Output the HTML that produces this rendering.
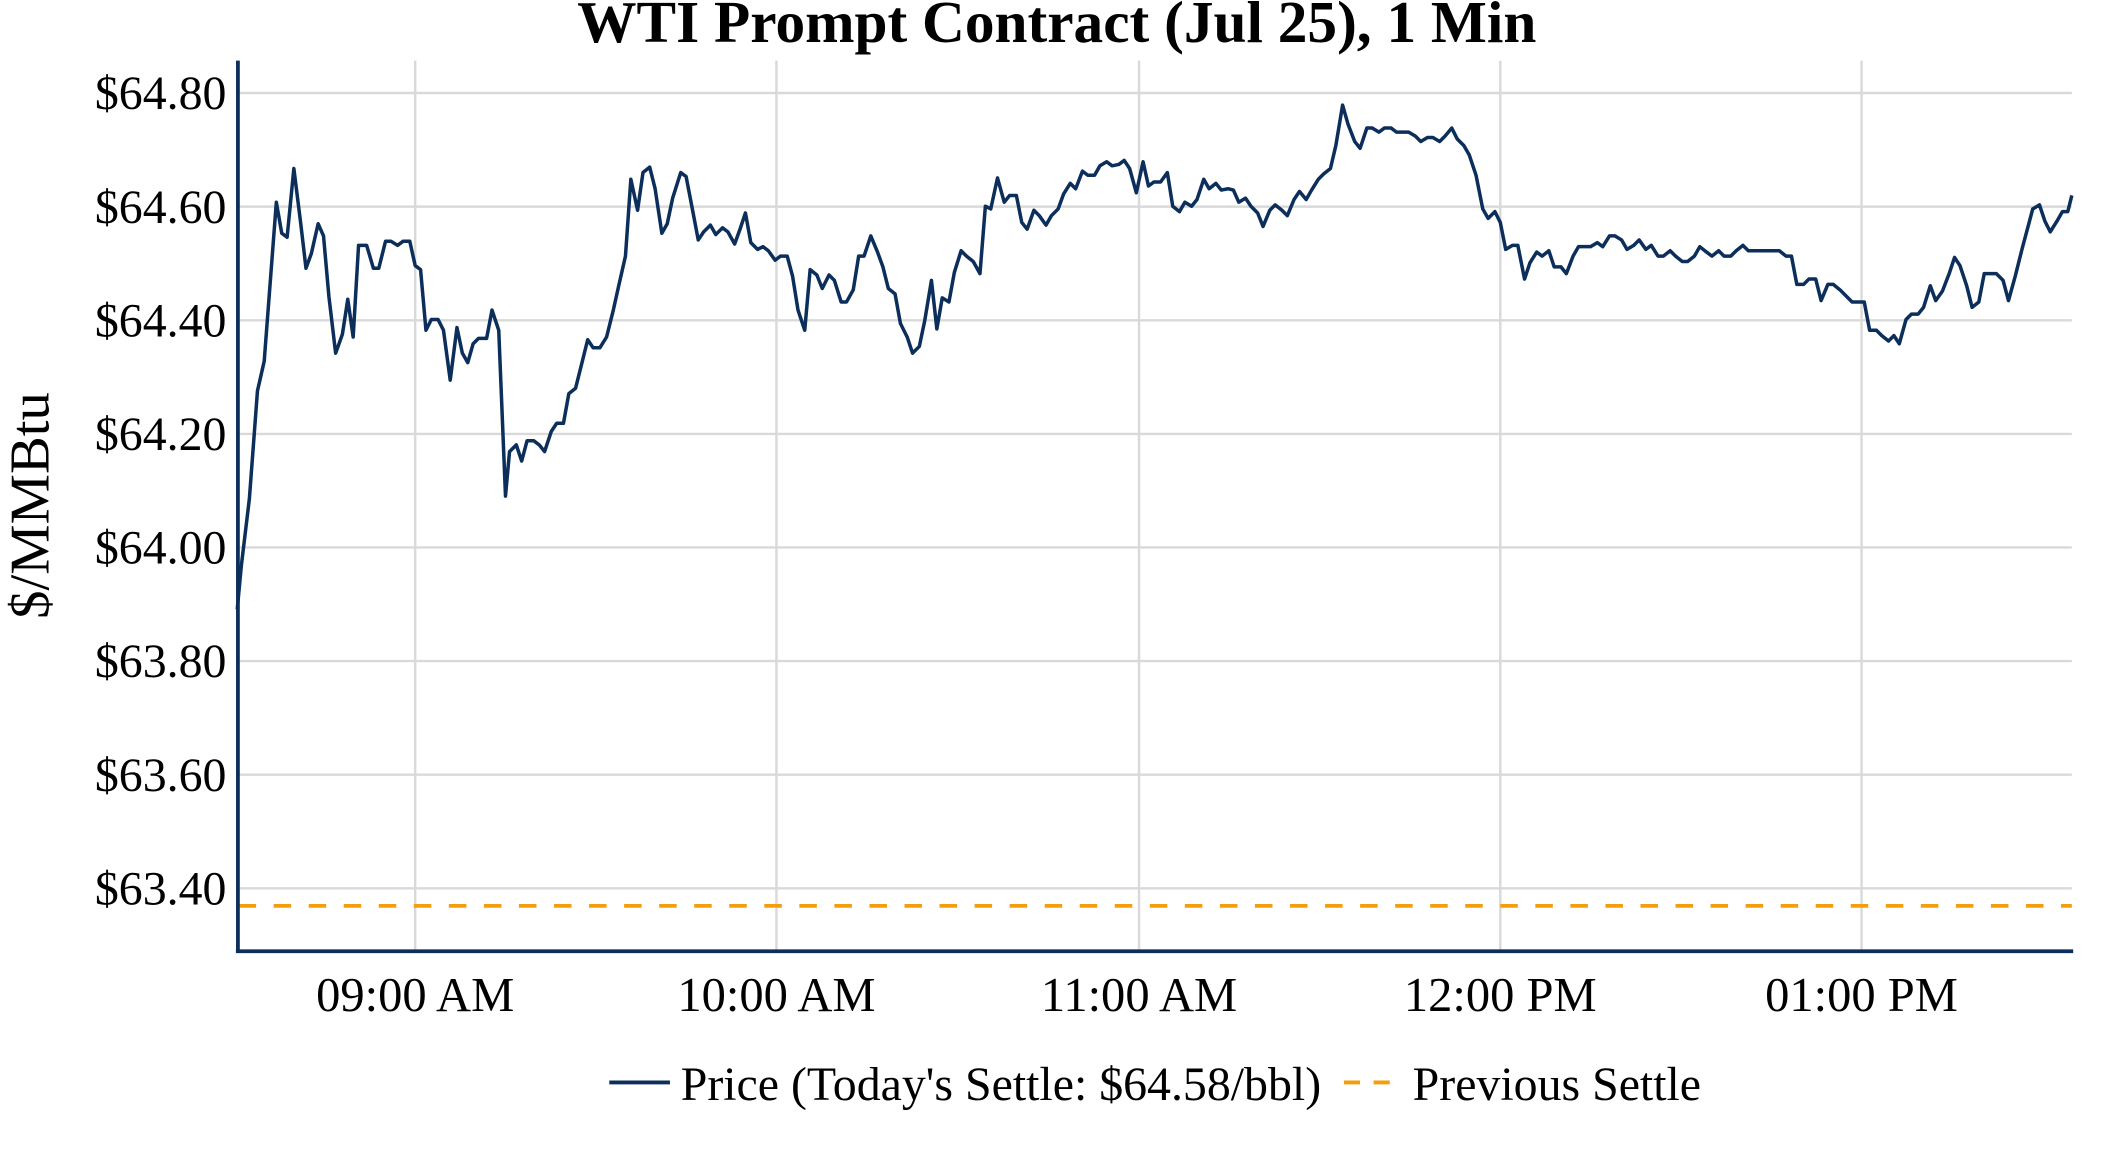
<!DOCTYPE html>
<html><head><meta charset="utf-8"><style>
html,body{margin:0;padding:0;background:#fff;}
svg{display:block;font-family:"Liberation Serif",serif;}
</style></head><body>
<svg width="2112" height="1152" viewBox="0 0 1566.8 854.6" preserveAspectRatio="none" xmlns="http://www.w3.org/2000/svg">
<text x="784" y="31" font-size="44" font-weight="bold" text-anchor="middle" fill="#000">WTI Prompt Contract (Jul 25), 1 Min</text>
<g stroke="#d9d9d9" stroke-width="1.8">
<line x1="177" y1="69" x2="1537" y2="69"/>
<line x1="177" y1="153.3" x2="1537" y2="153.3"/>
<line x1="177" y1="237.6" x2="1537" y2="237.6"/>
<line x1="177" y1="321.9" x2="1537" y2="321.9"/>
<line x1="177" y1="406.1" x2="1537" y2="406.1"/>
<line x1="177" y1="490.4" x2="1537" y2="490.4"/>
<line x1="177" y1="574.7" x2="1537" y2="574.7"/>
<line x1="177" y1="659" x2="1537" y2="659"/>
<line x1="308" y1="45" x2="308" y2="705"/>
<line x1="576" y1="45" x2="576" y2="705"/>
<line x1="845" y1="45" x2="845" y2="705"/>
<line x1="1113" y1="45" x2="1113" y2="705"/>
<line x1="1381" y1="45" x2="1381" y2="705"/>
</g>
<line x1="177" y1="672" x2="1537" y2="672" stroke="#f59e0b" stroke-width="2.8" stroke-dasharray="13,13"/>
<g font-size="35.5" fill="#000" text-anchor="end">
<text x="168" y="81">$64.80</text>
<text x="168" y="165.3">$64.60</text>
<text x="168" y="249.6">$64.40</text>
<text x="168" y="333.9">$64.20</text>
<text x="168" y="418.1">$64.00</text>
<text x="168" y="502.4">$63.80</text>
<text x="168" y="586.7">$63.60</text>
<text x="168" y="671">$63.40</text>
</g>
<g font-size="36" fill="#000" text-anchor="middle">
<text x="308" y="750">09:00 AM</text>
<text x="576" y="750">10:00 AM</text>
<text x="845" y="750">11:00 AM</text>
<text x="1113" y="750">12:00 PM</text>
<text x="1381" y="750">01:00 PM</text>
</g>
<text transform="translate(36,375) rotate(-90)" font-size="42" text-anchor="middle" fill="#000">$/MMBtu</text>
<polyline fill="none" stroke="#0b2e5b" stroke-width="2.6" stroke-linejoin="round" points="176,452 179,420 185,370 191,290 196,268 205,150 209,173 213,176 218,125 223,165 227,199 231,188 236,166 240,175 244,220 249,262 254,248 258,222 262,250 266,182 272,182 277,199 281,199 286,179 290,179 295,182 299,179 304,179 308,197 312,200 316,245 320,237 325,237 329,245 334,282 339,243 343,262 347,269 351,255 355,251 361,251 365,230 370,245 375,368 378,335 383,330 387,342 391,327 396,327 400,330 404,335 409,320 413,314 418,314 422,292 427,288 431,272 436,252 440,258 445,258 450,250 455,230 459,212 464,190 468,133 473,156 477,128 482,124 486,140 491,173 495,166 499,147 505,128 509,131 514,157 518,178 522,172 527,167 531,174 536,169 540,172 545,181 549,170 553,158 557,180 562,185 566,183 570,186 575,193 579,190 584,190 588,205 592,230 597,245 601,200 606,204 610,214 615,204 619,208 624,224 628,224 633,215 637,190 641,190 646,175 651,187 655,198 659,214 664,218 668,240 673,250 677,262 682,257 686,238 691,208 695,244 699,221 704,224 708,202 713,186 717,190 722,194 727,203 731,153 735,155 740,132 745,150 749,145 754,145 758,165 762,170 767,156 771,160 776,167 780,160 785,155 789,144 794,136 798,140 803,127 807,130 812,130 816,123 821,120 825,123 830,122 834,119 838,125 843,143 848,120 852,138 856,135 861,135 866,128 870,153 875,157 879,150 884,153 888,148 893,133 897,140 902,136 906,141 911,140 915,141 919,150 924,147 928,153 933,158 937,168 942,156 946,152 951,156 955,160 960,148 964,142 969,148 973,141 978,133 982,129 987,125 991,108 996,78 1000,92 1005,105 1009,110 1014,95 1018,95 1023,98 1027,95 1032,95 1036,98 1041,98 1045,98 1050,101 1054,105 1059,102 1063,102 1068,105 1072,101 1077,95 1081,103 1086,108 1090,115 1095,130 1100,155 1104,162 1109,157 1113,165 1117,185 1122,182 1126,182 1131,207 1135,195 1140,187 1144,190 1149,186 1153,198 1158,198 1162,203 1167,190 1171,183 1176,183 1180,183 1185,180 1189,183 1194,175 1198,175 1203,178 1207,185 1212,182 1216,178 1221,185 1225,182 1230,190 1234,190 1239,186 1243,190 1248,194 1252,194 1257,190 1261,183 1266,187 1270,190 1275,186 1279,190 1284,190 1288,186 1293,182 1297,186 1302,186 1306,186 1311,186 1316,186 1320,186 1325,190 1329,190 1333,211 1338,211 1342,207 1347,207 1351,223 1356,211 1360,211 1365,215 1369,219 1374,224 1378,224 1383,224 1387,245 1392,245 1396,249 1401,253 1405,249 1409,255 1414,237 1418,233 1423,233 1427,228 1432,212 1436,223 1441,216 1446,203 1450,191 1454,197 1459,212 1463,228 1468,224 1472,203 1477,203 1481,203 1486,208 1490,223 1495,205 1500,185 1504,170 1508,155 1513,152 1517,164 1521,172 1526,164 1530,157 1534,157 1537,145"/>
<line x1="176.5" y1="45" x2="176.5" y2="707" stroke="#0b2e5b" stroke-width="2.8"/>
<line x1="175" y1="705.7" x2="1538" y2="705.7" stroke="#0b2e5b" stroke-width="2.8"/>
<line x1="452" y1="803" x2="497" y2="803" stroke="#0b2e5b" stroke-width="2.8"/>
<text x="505" y="816" font-size="35.5" fill="#000">Price (Today's Settle: $64.58/bbl)</text>
<line x1="997" y1="803" x2="1037" y2="803" stroke="#f59e0b" stroke-width="2.8" stroke-dasharray="12,10"/>
<text x="1048" y="816" font-size="35.5" fill="#000">Previous Settle</text>
</svg>
</body></html>
